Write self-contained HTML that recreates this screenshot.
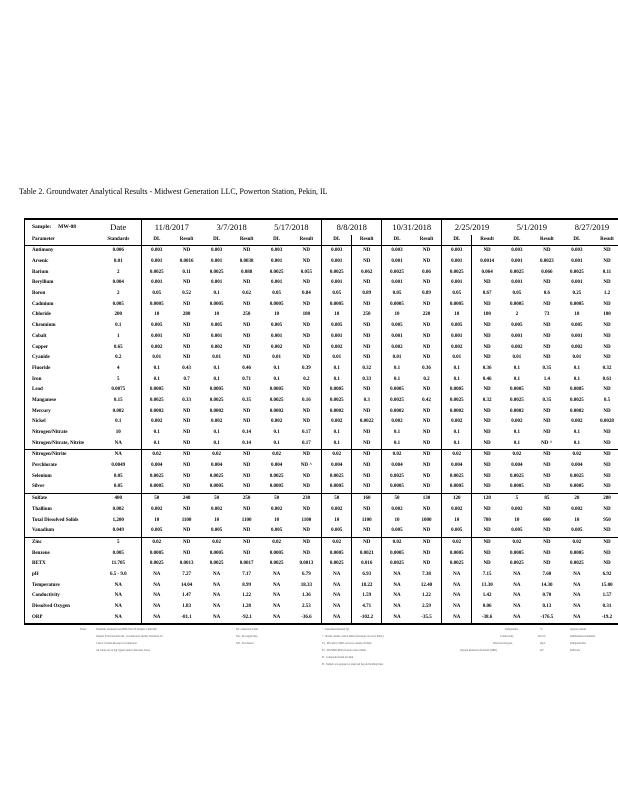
<!DOCTYPE html>
<html><head><meta charset="utf-8"><style>
html,body{margin:0;padding:0;background:#fff;width:618px;height:800px;overflow:hidden;position:relative;font-family:"Liberation Serif",serif;color:#000}
.title{position:absolute;left:19px;top:187px;font-size:7.9px;white-space:nowrap}
table{position:absolute;left:24px;top:218px;border-collapse:collapse;table-layout:fixed;width:598px}
col.p{width:71px}col.s{width:46px}col.c{width:30px}
col.b{border-right:1.5px solid #000}
td{padding:0;height:10.7px;font-size:5px;font-weight:bold;text-align:center;white-space:nowrap;overflow:hidden;line-height:10px}
td.n{text-align:left;padding-left:7px}
tr.h1 td{height:15px;font-size:8.5px;font-weight:normal;line-height:15px}
tr.h1 td.sm{font-size:5.5px;font-weight:bold}
tr.h2 td{height:10px}
tr.h2{border-bottom:1.5px solid #000}
tr.sep{border-top:1.5px solid #000}
table{border-top:2px solid #000;border-bottom:2px solid #000;border-left:1px solid #000}
.fn{position:absolute;font-size:2.6px;color:#555;white-space:nowrap}
</style></head><body>
<div class="title">Table 2. Groundwater Analytical Results - Midwest Generation LLC, Powerton Station, Pekin, IL</div>
<table>
<colgroup><col class="p"><col class="s b"><col class="c"><col class="c"><col class="c"><col class="c"><col class="c"><col class="c b"><col class="c b"><col class="c b"><col class="c"><col class="c b"><col class="c b"><col class="c"><col class="c"><col class="c"><col class="c"><col class="c"></colgroup>
<tr class="h1"><td class="n sm">Sample: &nbsp; &nbsp; MW-08</td><td>Date</td><td colspan="2">11/8/2017</td><td colspan="2">3/7/2018</td><td colspan="2">5/17/2018</td><td colspan="2">8/8/2018</td><td colspan="2">10/31/2018</td><td colspan="2">2/25/2019</td><td colspan="2">5/1/2019</td><td colspan="2">8/27/2019</td></tr>
<tr class="h2"><td class="n">Parameter</td><td>Standards</td><td>DL</td><td>Result</td><td>DL</td><td>Result</td><td>DL</td><td>Result</td><td>DL</td><td>Result</td><td>DL</td><td>Result</td><td>DL</td><td>Result</td><td>DL</td><td>Result</td><td>DL</td><td>Result</td></tr>
<tr><td class="n">Antimony</td><td>0.006</td><td>0.003</td><td>ND</td><td>0.003</td><td>ND</td><td>0.003</td><td>ND</td><td>0.003</td><td>ND</td><td>0.003</td><td>ND</td><td>0.003</td><td>ND</td><td>0.003</td><td>ND</td><td>0.003</td><td>ND</td></tr>
<tr><td class="n">Arsenic</td><td>0.01</td><td>0.001</td><td>0.0016</td><td>0.001</td><td>0.0038</td><td>0.001</td><td>ND</td><td>0.001</td><td>ND</td><td>0.001</td><td>ND</td><td>0.001</td><td>0.0014</td><td>0.001</td><td>0.0023</td><td>0.001</td><td>ND</td></tr>
<tr><td class="n">Barium</td><td>2</td><td>0.0025</td><td>0.11</td><td>0.0025</td><td>0.088</td><td>0.0025</td><td>0.055</td><td>0.0025</td><td>0.062</td><td>0.0025</td><td>0.06</td><td>0.0025</td><td>0.064</td><td>0.0025</td><td>0.066</td><td>0.0025</td><td>0.11</td></tr>
<tr><td class="n">Beryllium</td><td>0.004</td><td>0.001</td><td>ND</td><td>0.001</td><td>ND</td><td>0.001</td><td>ND</td><td>0.001</td><td>ND</td><td>0.001</td><td>ND</td><td>0.001</td><td>ND</td><td>0.001</td><td>ND</td><td>0.001</td><td>ND</td></tr>
<tr><td class="n">Boron</td><td>2</td><td>0.05</td><td>0.52</td><td>0.1</td><td>0.62</td><td>0.05</td><td>0.84</td><td>0.05</td><td>0.89</td><td>0.05</td><td>0.89</td><td>0.05</td><td>0.67</td><td>0.05</td><td>0.6</td><td>0.25</td><td>1.2</td></tr>
<tr><td class="n">Cadmium</td><td>0.005</td><td>0.0005</td><td>ND</td><td>0.0005</td><td>ND</td><td>0.0005</td><td>ND</td><td>0.0005</td><td>ND</td><td>0.0005</td><td>ND</td><td>0.0005</td><td>ND</td><td>0.0005</td><td>ND</td><td>0.0005</td><td>ND</td></tr>
<tr><td class="n">Chloride</td><td>200</td><td>10</td><td>280</td><td>10</td><td>250</td><td>10</td><td>180</td><td>10</td><td>250</td><td>10</td><td>220</td><td>10</td><td>100</td><td>2</td><td>73</td><td>10</td><td>100</td></tr>
<tr><td class="n">Chromium</td><td>0.1</td><td>0.005</td><td>ND</td><td>0.005</td><td>ND</td><td>0.005</td><td>ND</td><td>0.005</td><td>ND</td><td>0.005</td><td>ND</td><td>0.005</td><td>ND</td><td>0.005</td><td>ND</td><td>0.005</td><td>ND</td></tr>
<tr><td class="n">Cobalt</td><td>1</td><td>0.001</td><td>ND</td><td>0.001</td><td>ND</td><td>0.001</td><td>ND</td><td>0.001</td><td>ND</td><td>0.001</td><td>ND</td><td>0.001</td><td>ND</td><td>0.001</td><td>ND</td><td>0.001</td><td>ND</td></tr>
<tr><td class="n">Copper</td><td>0.65</td><td>0.002</td><td>ND</td><td>0.002</td><td>ND</td><td>0.002</td><td>ND</td><td>0.002</td><td>ND</td><td>0.002</td><td>ND</td><td>0.002</td><td>ND</td><td>0.002</td><td>ND</td><td>0.002</td><td>ND</td></tr>
<tr><td class="n">Cyanide</td><td>0.2</td><td>0.01</td><td>ND</td><td>0.01</td><td>ND</td><td>0.01</td><td>ND</td><td>0.01</td><td>ND</td><td>0.01</td><td>ND</td><td>0.01</td><td>ND</td><td>0.01</td><td>ND</td><td>0.01</td><td>ND</td></tr>
<tr><td class="n">Fluoride</td><td>4</td><td>0.1</td><td>0.43</td><td>0.1</td><td>0.46</td><td>0.1</td><td>0.39</td><td>0.1</td><td>0.32</td><td>0.1</td><td>0.36</td><td>0.1</td><td>0.36</td><td>0.1</td><td>0.35</td><td>0.1</td><td>0.32</td></tr>
<tr><td class="n">Iron</td><td>5</td><td>0.1</td><td>0.7</td><td>0.1</td><td>0.71</td><td>0.1</td><td>0.2</td><td>0.1</td><td>0.33</td><td>0.1</td><td>0.2</td><td>0.1</td><td>0.46</td><td>0.1</td><td>1.4</td><td>0.1</td><td>0.61</td></tr>
<tr><td class="n">Lead</td><td>0.0075</td><td>0.0005</td><td>ND</td><td>0.0005</td><td>ND</td><td>0.0005</td><td>ND</td><td>0.0005</td><td>ND</td><td>0.0005</td><td>ND</td><td>0.0005</td><td>ND</td><td>0.0005</td><td>ND</td><td>0.0005</td><td>ND</td></tr>
<tr><td class="n">Manganese</td><td>0.15</td><td>0.0025</td><td>0.33</td><td>0.0025</td><td>0.35</td><td>0.0025</td><td>0.16</td><td>0.0025</td><td>0.3</td><td>0.0025</td><td>0.42</td><td>0.0025</td><td>0.32</td><td>0.0025</td><td>0.35</td><td>0.0025</td><td>0.5</td></tr>
<tr><td class="n">Mercury</td><td>0.002</td><td>0.0002</td><td>ND</td><td>0.0002</td><td>ND</td><td>0.0002</td><td>ND</td><td>0.0002</td><td>ND</td><td>0.0002</td><td>ND</td><td>0.0002</td><td>ND</td><td>0.0002</td><td>ND</td><td>0.0002</td><td>ND</td></tr>
<tr><td class="n">Nickel</td><td>0.1</td><td>0.002</td><td>ND</td><td>0.002</td><td>ND</td><td>0.002</td><td>ND</td><td>0.002</td><td>0.0022</td><td>0.002</td><td>ND</td><td>0.002</td><td>ND</td><td>0.002</td><td>ND</td><td>0.002</td><td>0.0028</td></tr>
<tr><td class="n">Nitrogen/Nitrate</td><td>10</td><td>0.1</td><td>ND</td><td>0.1</td><td>0.14</td><td>0.1</td><td>0.17</td><td>0.1</td><td>ND</td><td>0.1</td><td>ND</td><td>0.1</td><td>ND</td><td>0.1</td><td>ND</td><td>0.1</td><td>ND</td></tr>
<tr><td class="n">Nitrogen/Nitrate, Nitrite</td><td>NA</td><td>0.1</td><td>ND</td><td>0.1</td><td>0.14</td><td>0.1</td><td>0.17</td><td>0.1</td><td>ND</td><td>0.1</td><td>ND</td><td>0.1</td><td>ND</td><td>0.1</td><td>ND ^</td><td>0.1</td><td>ND</td></tr>
<tr class="sep"><td class="n">Nitrogen/Nitrite</td><td>NA</td><td>0.02</td><td>ND</td><td>0.02</td><td>ND</td><td>0.02</td><td>ND</td><td>0.02</td><td>ND</td><td>0.02</td><td>ND</td><td>0.02</td><td>ND</td><td>0.02</td><td>ND</td><td>0.02</td><td>ND</td></tr>
<tr><td class="n">Perchlorate</td><td>0.0049</td><td>0.004</td><td>ND</td><td>0.004</td><td>ND</td><td>0.004</td><td>ND ^</td><td>0.004</td><td>ND</td><td>0.004</td><td>ND</td><td>0.004</td><td>ND</td><td>0.004</td><td>ND</td><td>0.004</td><td>ND</td></tr>
<tr><td class="n">Selenium</td><td>0.05</td><td>0.0025</td><td>ND</td><td>0.0025</td><td>ND</td><td>0.0025</td><td>ND</td><td>0.0025</td><td>ND</td><td>0.0025</td><td>ND</td><td>0.0025</td><td>ND</td><td>0.0025</td><td>ND</td><td>0.0025</td><td>ND</td></tr>
<tr><td class="n">Silver</td><td>0.05</td><td>0.0005</td><td>ND</td><td>0.0005</td><td>ND</td><td>0.0005</td><td>ND</td><td>0.0005</td><td>ND</td><td>0.0005</td><td>ND</td><td>0.0005</td><td>ND</td><td>0.0005</td><td>ND</td><td>0.0005</td><td>ND</td></tr>
<tr class="sep"><td class="n">Sulfate</td><td>400</td><td>50</td><td>240</td><td>50</td><td>250</td><td>50</td><td>230</td><td>50</td><td>160</td><td>50</td><td>130</td><td>120</td><td>120</td><td>5</td><td>85</td><td>20</td><td>280</td></tr>
<tr><td class="n">Thallium</td><td>0.002</td><td>0.002</td><td>ND</td><td>0.002</td><td>ND</td><td>0.002</td><td>ND</td><td>0.002</td><td>ND</td><td>0.002</td><td>ND</td><td>0.002</td><td>ND</td><td>0.002</td><td>ND</td><td>0.002</td><td>ND</td></tr>
<tr><td class="n">Total Dissolved Solids</td><td>1,200</td><td>10</td><td>1100</td><td>10</td><td>1100</td><td>10</td><td>1100</td><td>10</td><td>1100</td><td>10</td><td>1000</td><td>10</td><td>780</td><td>10</td><td>660</td><td>10</td><td>950</td></tr>
<tr><td class="n">Vanadium</td><td>0.049</td><td>0.005</td><td>ND</td><td>0.005</td><td>ND</td><td>0.005</td><td>ND</td><td>0.005</td><td>ND</td><td>0.005</td><td>ND</td><td>0.005</td><td>ND</td><td>0.005</td><td>ND</td><td>0.005</td><td>ND</td></tr>
<tr class="sep"><td class="n">Zinc</td><td>5</td><td>0.02</td><td>ND</td><td>0.02</td><td>ND</td><td>0.02</td><td>ND</td><td>0.02</td><td>ND</td><td>0.02</td><td>ND</td><td>0.02</td><td>ND</td><td>0.02</td><td>ND</td><td>0.02</td><td>ND</td></tr>
<tr><td class="n">Benzene</td><td>0.005</td><td>0.0005</td><td>ND</td><td>0.0005</td><td>ND</td><td>0.0005</td><td>ND</td><td>0.0005</td><td>0.0021</td><td>0.0005</td><td>ND</td><td>0.0005</td><td>ND</td><td>0.0005</td><td>ND</td><td>0.0005</td><td>ND</td></tr>
<tr><td class="n">BETX</td><td>11.705</td><td>0.0025</td><td>0.0013</td><td>0.0025</td><td>0.0017</td><td>0.0025</td><td>0.0013</td><td>0.0025</td><td>0.016</td><td>0.0025</td><td>ND</td><td>0.0025</td><td>ND</td><td>0.0025</td><td>ND</td><td>0.0025</td><td>ND</td></tr>
<tr><td class="n">pH</td><td>6.5 - 9.0</td><td>NA</td><td>7.27</td><td>NA</td><td>7.17</td><td>NA</td><td>6.79</td><td>NA</td><td>6.93</td><td>NA</td><td>7.38</td><td>NA</td><td>7.15</td><td>NA</td><td>7.60</td><td>NA</td><td>6.92</td></tr>
<tr><td class="n">Temperature</td><td>NA</td><td>NA</td><td>14.04</td><td>NA</td><td>8.99</td><td>NA</td><td>18.33</td><td>NA</td><td>18.22</td><td>NA</td><td>12.40</td><td>NA</td><td>13.30</td><td>NA</td><td>14.30</td><td>NA</td><td>15.00</td></tr>
<tr><td class="n">Conductivity</td><td>NA</td><td>NA</td><td>1.47</td><td>NA</td><td>1.22</td><td>NA</td><td>1.36</td><td>NA</td><td>1.59</td><td>NA</td><td>1.22</td><td>NA</td><td>1.42</td><td>NA</td><td>0.70</td><td>NA</td><td>1.57</td></tr>
<tr><td class="n">Dissolved Oxygen</td><td>NA</td><td>NA</td><td>1.83</td><td>NA</td><td>1.28</td><td>NA</td><td>2.53</td><td>NA</td><td>4.71</td><td>NA</td><td>2.59</td><td>NA</td><td>0.06</td><td>NA</td><td>0.13</td><td>NA</td><td>0.31</td></tr>
<tr><td class="n">ORP</td><td>NA</td><td>NA</td><td>-81.1</td><td>NA</td><td>-92.1</td><td>NA</td><td>-36.6</td><td>NA</td><td>-102.2</td><td>NA</td><td>-35.5</td><td>NA</td><td>-38.6</td><td>NA</td><td>-176.5</td><td>NA</td><td>-19.2</td></tr>
</table>
<div class="fn" style="left:80px;top:628px">Notes:</div>
<div class="fn" style="left:96px;top:628px">Standards obtained from IEPA Title 35 Chapter I, Part 620</div>
<div class="fn" style="left:96px;top:635px">Subpart D Section 620.410 - Groundwater Quality Standards for</div>
<div class="fn" style="left:96px;top:642px">Class I: Potable Resource Groundwater</div>
<div class="fn" style="left:96px;top:649px">All values are in mg/l (ppm) unless otherwise noted.</div>
<div class="fn" style="left:236px;top:628px">DL - Detection Limit</div>
<div class="fn" style="left:236px;top:635px">NA - Not Applicable</div>
<div class="fn" style="left:236px;top:642px">ND - Non Detect</div>
<div class="fn" style="left:322px;top:628px">^ - Instrument Related QC</div>
<div class="fn" style="left:322px;top:635px">* - Result outside control limits (Surrogate recovery limits)</div>
<div class="fn" style="left:322px;top:642px">F1 - MS and/or MSD recovery outside of limits</div>
<div class="fn" style="left:322px;top:649px">F2 - MS/MSD RPD exceeds control limits</div>
<div class="fn" style="left:322px;top:656px">B - Compound found in blank</div>
<div class="fn" style="left:322px;top:663px">H - Sample was prepped or analyzed beyond holding times</div>
<div class="fn" style="left:505px;top:628px">Temperature</div>
<div class="fn" style="left:500px;top:635px">Conductivity</div>
<div class="fn" style="left:493px;top:642px">Dissolved Oxygen</div>
<div class="fn" style="left:460px;top:649px">Oxygen Reduction Potential (ORP)</div>
<div class="fn" style="left:540px;top:628px">°C</div>
<div class="fn" style="left:538px;top:635px">mS/cm</div>
<div class="fn" style="left:540px;top:642px">mg/L</div>
<div class="fn" style="left:540px;top:649px">mV</div>
<div class="fn" style="left:570px;top:628px">degrees Celsius</div>
<div class="fn" style="left:570px;top:635px">milliSiemens/centimeter</div>
<div class="fn" style="left:570px;top:642px">milligrams/liter</div>
<div class="fn" style="left:570px;top:649px">millivolts</div>
</body></html>
